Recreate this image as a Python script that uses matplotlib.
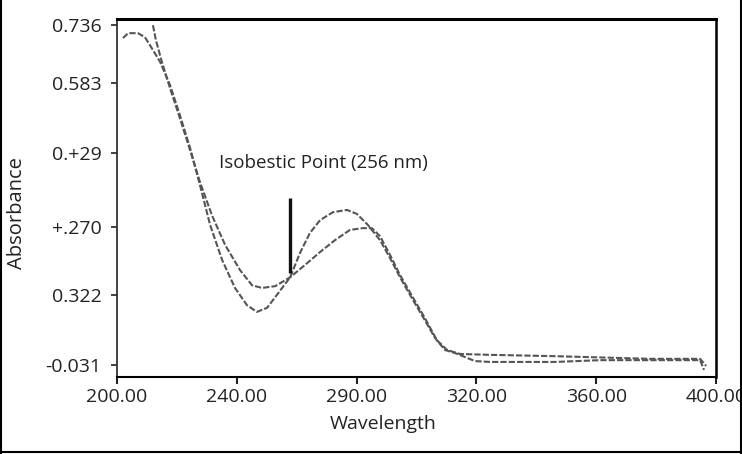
import matplotlib
matplotlib.use("Agg")
from matplotlib import pyplot as plt
from matplotlib.lines import Line2D

# wavelength (nm) / absorbance
wl_a = [202.0, 203.7, 207.0, 209.3, 211.0, 214.4, 217.7, 221.0, 224.4, 227.7,
        231.1, 235.1, 239.4, 243.4, 246.7, 250.1, 253.8, 257.8, 261.1, 264.4,
        267.8, 272.1, 276.8, 280.1, 283.8, 287.8, 291.2, 294.5, 298.8, 302.8,
        306.2, 309.5, 312.9, 316.2, 319.5, 324.5, 346.3, 361.3, 394.7, 396.0]
abs_a = [0.707, 0.718, 0.718, 0.709, 0.691, 0.653, 0.601, 0.533, 0.459, 0.375,
         0.285, 0.206, 0.143, 0.104, 0.089, 0.098, 0.131, 0.167, 0.222, 0.267,
         0.296, 0.314, 0.319, 0.310, 0.285, 0.251, 0.210, 0.167, 0.116, 0.070,
         0.030, 0.003, -0.004, -0.013, -0.022, -0.024, -0.024, -0.020, -0.020, -0.042]

wl_b = [212.0, 213.0, 215.0, 217.7, 221.0, 224.4, 227.7, 231.7, 236.1, 241.1,
        245.1, 248.4, 252.8, 257.8, 262.8, 267.8, 272.8, 277.8, 282.1, 285.1,
        287.8, 291.2, 294.5, 298.5, 302.8, 306.8, 310.2, 314.5, 324.5, 346.3,
        378.0, 394.7, 396.7]
abs_b = [0.736, 0.702, 0.653, 0.594, 0.526, 0.454, 0.382, 0.307, 0.240, 0.183,
         0.149, 0.143, 0.147, 0.167, 0.195, 0.224, 0.251, 0.274, 0.278, 0.278,
         0.260, 0.217, 0.172, 0.125, 0.075, 0.025, 0.003, -0.006, -0.008, -0.011,
         -0.017, -0.017, -0.033]

xtick_pos = [200, 240, 280, 320, 360, 400]
xtick_labels = ["200.00", "240.00", "290.00", "320.00", "360.00", "400.00"]
ytick_pos = [-0.031, 0.127, 0.280, 0.447, 0.605, 0.736]
ytick_labels = ["-0.031", "0.322", "+.270", "0.+29", "0.583", "0.736"]

isobestic_x = 257.8
isobestic_y = [0.176, 0.346]

plt.rcParams["font.family"] = ["Open Sans", "DejaVu Sans"]

fig = plt.figure(figsize=(7.42, 4.54), dpi=100)
ax = fig.add_axes([117 / 742, 1 - 377 / 454, 599 / 742, 358 / 454])

line_style = dict(color="#555555", lw=1.5, ls=(0, (3, 1)))
ax.plot(wl_a, abs_a, **line_style)
ax.plot(wl_b, abs_b, **line_style)

ax.plot([isobestic_x, isobestic_x], isobestic_y, color="#111111", lw=2.4,
        solid_capstyle="butt")
ax.text(234.1, 0.425, "Isobestic Point (256 nm)", fontsize=13.5, color="#222222",
        va="center", ha="left")

ax.set_xlim(200, 400)
ax.set_ylim(-0.058, 0.750)
ax.set_xticks(xtick_pos)
ax.set_xticklabels(xtick_labels)
ax.set_yticks(ytick_pos)
ax.set_yticklabels(ytick_labels)
ax.tick_params(axis="x", direction="out", length=5, width=1.5, pad=3,
               labelsize=14, colors="#222222")
ax.tick_params(axis="y", direction="out", length=4, width=1.2, pad=7,
               labelsize=14, colors="#222222")

ax.spines["top"].set_linewidth(2.2)
ax.spines["right"].set_linewidth(1.8)
ax.spines["bottom"].set_linewidth(1.5)
ax.spines["left"].set_linewidth(1.3)
ax.spines["left"].set_color("#333333")

fig.text(383 / 742, 1 - 424 / 454, "Wavelength", fontsize=14, color="#222222",
         ha="center", va="center")
fig.text(17 / 742, 1 - 213 / 454, "Absorbance", fontsize=14.5, color="#222222",
         ha="center", va="center", rotation=90)

# outer frame of the picture
for xs, ys in [([0.001, 0.001], [0, 1]), ([0, 1], [0.004, 0.004]),
               ([0.998, 0.998], [0, 1])]:
    fig.add_artist(Line2D(xs, ys, color="black", lw=1.5,
                          transform=fig.transFigure))

fig.savefig("out.png", dpi=100, facecolor="white")
